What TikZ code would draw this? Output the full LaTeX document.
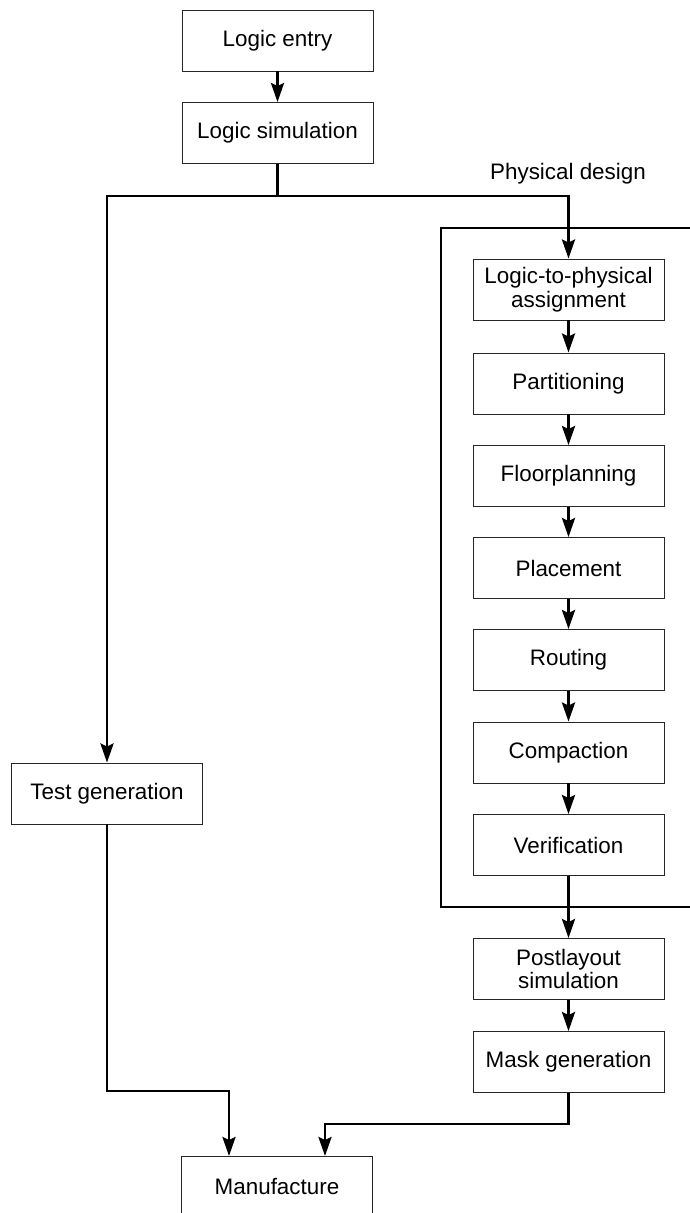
\documentclass[tikz,border=0pt]{standalone}
\usepackage{fontspec}
\setmainfont{Liberation Sans}
\usetikzlibrary{arrows.meta,calc}
\begin{document}
\begin{tikzpicture}[x=1pt,y=-1pt,
  box/.style={draw=black!85,line width=0.9pt,minimum width=191pt,minimum height=61pt,inner sep=0pt,align=center,font=\fontsize{22.4}{23.5}\selectfont},
  lbl/.style={font=\fontsize{22.4}{23.5}\selectfont,inner sep=0pt},
  conn/.style={line width=2.8pt,line join=miter},
  arr/.style={conn,-{Stealth[length=19pt,width=13pt,inset=3pt]}}]
\useasboundingbox (0,0) rectangle (690,1213);
\node[box] (le) at (277.5,40.5) {Logic entry};
\node[box] (ls) at (277.5,133) {Logic simulation};
\node[box] (tg) at (107,793.5) {Test generation};
\node[box] (lp) at (568.5,289.5) {Logic-to-physical\\assignment};
\node[box] (pa) at (568.5,383.5) {Partitioning};
\node[box] (fp) at (568.5,476) {Floorplanning};
\node[box] (pl) at (568.5,568) {Placement};
\node[box] (ro) at (568.5,660) {Routing};
\node[box] (co) at (568.5,752.5) {Compaction};
\node[box] (ve) at (568.5,845) {Verification};
\node[box] (ps) at (568.5,969) {Postlayout\\simulation};
\node[box] (mg) at (568.5,1062) {Mask generation};
\node[box,anchor=north] (ma) at (277,1156) {Manufacture};
\node[lbl] (pd) at (568,174) {Physical design};
% physical design frame
\coordinate (f1) at (700,228);
\coordinate (f2) at (441,228);
\coordinate (f3) at (441,907);
\coordinate (f4) at (700,907);
\draw[conn] (f1) -- (f2) -- (f3) -- (f4);
% connectors
\coordinate (bus) at (0,196);
\coordinate (tlev) at (0,1091);
\coordinate (mlev) at (0,1124);
\coordinate (m1) at ([xshift=-48pt]ma.north);
\coordinate (m2) at ([xshift=48pt]ma.north);
\draw[arr] (le) -- (ls);
\draw[arr] (ls.south) |- (tg.north |- bus) -- (tg.north);
\draw[arr] (ls.south) |- (lp.north |- bus) -- (lp.north);
\draw[arr] (lp) -- (pa);
\draw[arr] (pa) -- (fp);
\draw[arr] (fp) -- (pl);
\draw[arr] (pl) -- (ro);
\draw[arr] (ro) -- (co);
\draw[arr] (co) -- (ve);
\draw[arr] (ve) -- (ps);
\draw[arr] (ps) -- (mg);
\draw[arr] (tg.south) |- (m1 |- tlev) -- (m1);
\draw[arr] (mg.south) |- (m2 |- mlev) -- (m2);
\end{tikzpicture}
\end{document}
